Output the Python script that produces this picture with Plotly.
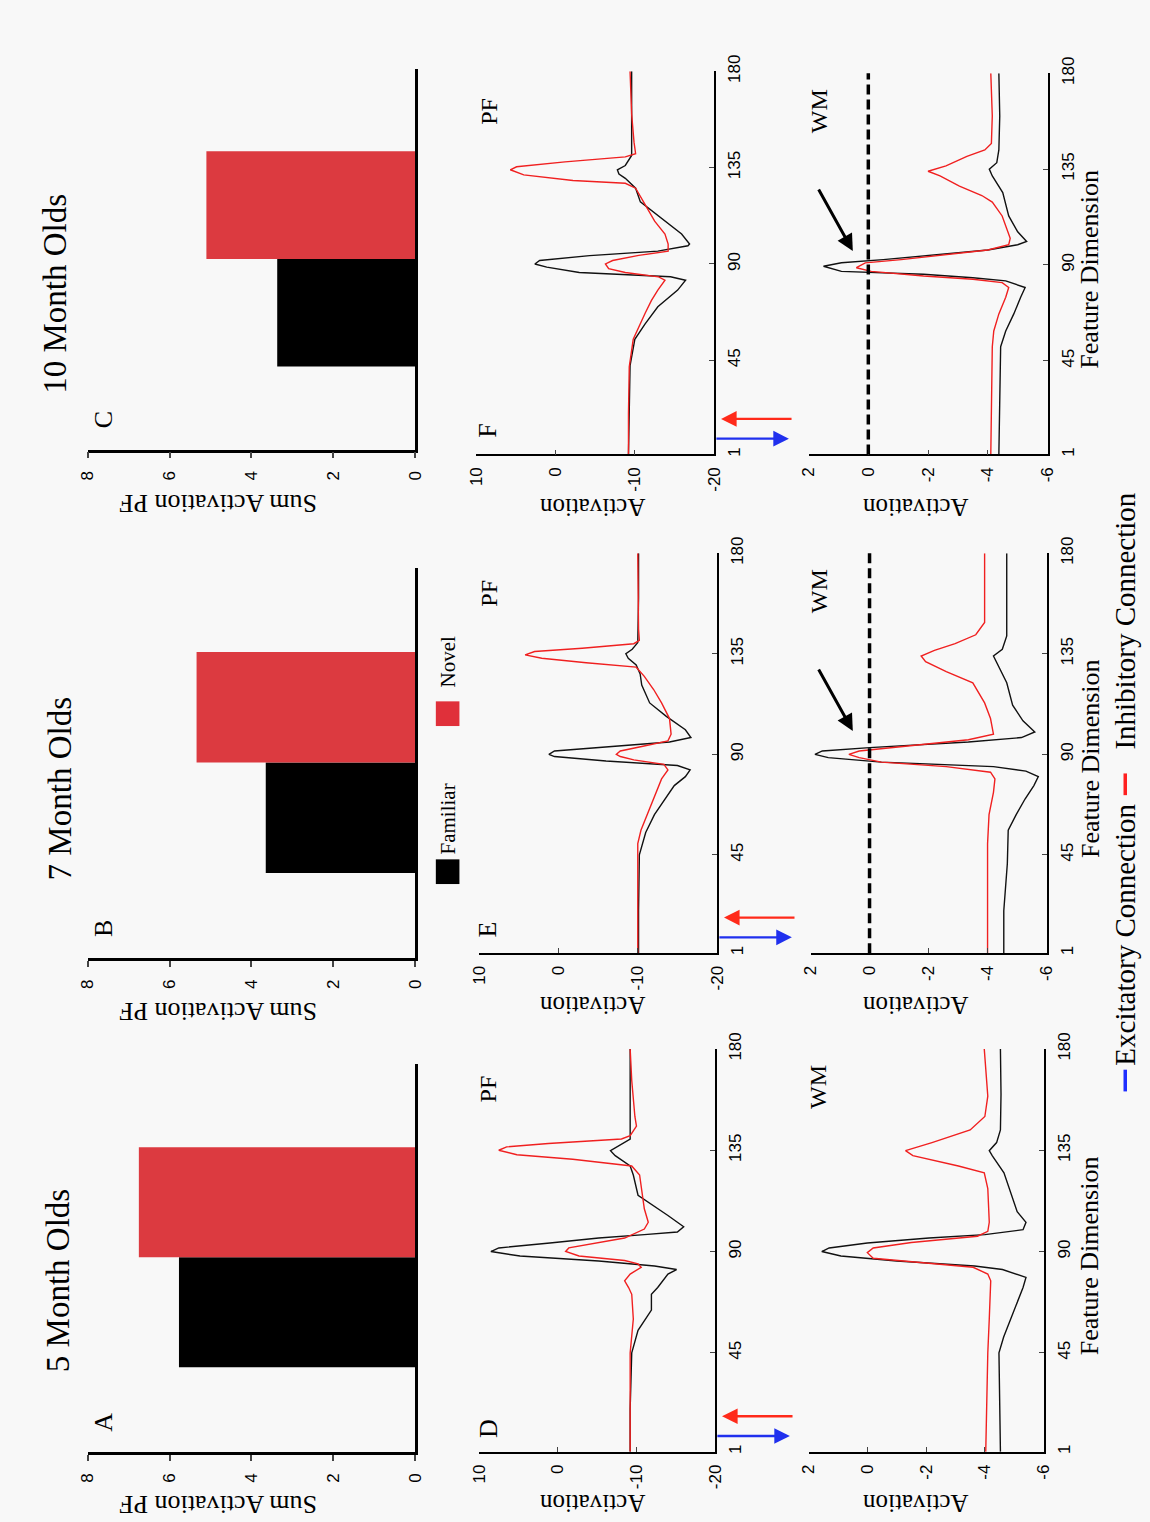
import plotly.graph_objects as go

W, H = 1150, 1522
SERIF = "Liberation Serif"
SANS = "Liberation Sans"
RED_BAR = "#dc3a40"
RED_LINE = "#f02020"
BLACK = "#111111"

# ---------------- data ----------------
AGES = ["5 Month Olds", "7 Month Olds", "10 Month Olds"]
BAR_LETTERS = ["A", "B", "C"]
PF_LETTERS = ["D", "E", "F"]
GROUPS = ["Familiar", "Novel"]
FAMILIAR_SUM = [5.77, 3.65, 3.37]
NOVEL_SUM = [6.75, 5.34, 5.10]

BAR_TICKS = [0, 2, 4, 6, 8]
PF_TICKS = [10, 0, -10, -20]
WM_TICKS = [2, 0, -2, -4, -6]
FEAT_TICKS = [1, 45, 90, 135, 180]

# 5 month olds, PF field (D)
D_PF_FAM_F = [1, 20, 45, 55, 64, 71, 74, 80, 82, 83.6, 85.8, 88, 90, 91.6, 93.8, 96, 97.5, 98.7, 101, 106, 115, 124, 128, 132.6, 134.8, 137, 140, 160, 180]
D_PF_FAM_A = [-9.2, -9.2, -9.4, -10.2, -11.9, -11.9, -12.7, -14.0, -15.1, -12.3, -5.2, 4.8, 8.5, 7.5, 1.0, -5.2, -11.0, -15.2, -16.0, -14.0, -10.2, -9.6, -9.2, -7.3, -6.7, -7.8, -9.2, -9.2, -9.2]
D_PF_NOV_F = [1, 20, 45, 60, 71, 74, 77, 80, 83, 84.5, 86, 88, 90, 91.6, 94, 96, 100, 103, 109, 118, 124, 128, 131, 133, 135, 136.5, 138, 140, 141.5, 145.7, 150, 166, 180]
D_PF_NOV_A = [-9.2, -9.2, -9.2, -9.6, -9.4, -9.0, -8.5, -9.2, -10.6, -10.2, -8.5, -2.7, -1.0, -1.4, -5.2, -8.5, -11.0, -11.5, -11.0, -10.6, -10.4, -9.4, -1.9, 5.2, 7.5, 6.5, 1.2, -8.1, -9.2, -10.0, -9.8, -9.4, -9.2]
# 5 month olds, WM field
D_WM_FAM_F = [1, 20, 45, 52, 59.5, 66.8, 74, 78.5, 82, 83.6, 85.8, 88, 90, 91.6, 93.8, 96, 97.5, 99.7, 103, 107.7, 116.5, 125, 132.6, 134.8, 138.4, 144, 160, 180]
D_WM_FAM_A = [-4.53, -4.5, -4.48, -4.64, -4.87, -5.1, -5.3, -5.4, -4.6, -3.65, -1.0, 0.9, 1.55, 1.3, 0.0, -2.1, -4.0, -5.3, -5.4, -5.1, -4.87, -4.65, -4.25, -4.15, -4.4, -4.53, -4.55, -4.53]
D_WM_NOV_F = [1, 20, 45, 60, 77, 80, 83, 85, 87, 89.5, 91.6, 94, 96.8, 99, 103, 118, 125, 128, 132.6, 134.8, 138.4, 144, 150, 159, 180]
D_WM_NOV_A = [-4.03, -4.05, -4.1, -4.15, -4.2, -4.1, -3.6, -1.9, -0.2, 0.0, -0.2, -1.5, -3.75, -4.1, -4.15, -4.1, -3.98, -3.1, -1.55, -1.3, -2.2, -3.5, -4.0, -4.1, -3.98]

# 7 month olds, PF field (E)
E_PF_FAM_F = [1, 20, 45, 55, 63, 70, 76, 80, 83, 85, 87, 89, 90, 91.5, 93.5, 95.5, 97.5, 101, 107, 113, 121, 126, 130, 133, 135, 137, 140, 160, 180]
E_PF_FAM_A = [-10.1, -10.1, -10.2, -11.0, -12.1, -13.4, -14.6, -16.0, -16.6, -15.0, -6.0, 0.5, 1.2, 0.5, -7.0, -14.0, -16.7, -16.0, -13.6, -11.5, -10.5, -10.3, -9.8, -8.8, -8.5, -9.3, -10.0, -10.1, -10.1]
E_PF_NOV_F = [1, 20, 50, 56, 70, 79, 83, 85.5, 87.5, 89, 90, 91.5, 93.5, 96, 99, 106, 113, 119, 125, 129, 131, 133, 134.5, 136, 137.5, 139.5, 141, 146, 180]
E_PF_NOV_A = [-10.0, -10.0, -10.0, -10.4, -12.0, -13.0, -13.8, -13.3, -9.5, -7.8, -7.3, -7.8, -10.5, -13.8, -14.2, -14.0, -13.0, -12.0, -10.8, -9.8, -3.5, 2.1, 4.2, 3.0, -3.0, -9.5, -10.2, -10.1, -10.0]
# 7 month olds, WM field
E_WM_FAM_F = [1, 20, 41, 56, 63, 70, 76, 80, 82.5, 84.5, 86.5, 88.5, 90, 91.5, 93, 95.5, 97.5, 100, 105, 112, 122, 130, 134, 137, 143, 160, 180]
E_WM_FAM_A = [-4.55, -4.55, -4.67, -4.7, -4.97, -5.27, -5.57, -5.72, -5.3, -4.2, -0.4, 1.4, 1.85, 1.6, 0.0, -3.35, -5.15, -5.6, -5.2, -4.85, -4.65, -4.35, -4.2, -4.5, -4.65, -4.65, -4.65]
E_WM_NOV_F = [1, 20, 50, 63, 73, 79, 82, 84.5, 86.5, 88.5, 90, 91.5, 93.5, 96.5, 99, 106, 113, 122, 127, 131.5, 134, 136.5, 139.5, 143.5, 149, 180]
E_WM_NOV_A = [-4.0, -4.0, -4.0, -4.05, -4.2, -4.25, -4.1, -2.6, -0.4, 0.35, 0.7, 0.35, -1.1, -3.35, -4.2, -4.1, -3.9, -3.5, -2.6, -1.9, -1.75, -2.2, -2.9, -3.6, -3.9, -3.9]

# 10 month olds, PF field (F)
F_PF_FAM_F = [1, 20, 42.5, 54.8, 62, 70, 77.8, 82.4, 84, 86, 88.5, 90, 91.6, 93.9, 96, 98.5, 99.3, 104, 110, 116, 119, 125.4, 130, 132, 134, 136, 140.7, 160, 180]
F_PF_FAM_A = [-9.2, -9.3, -9.4, -10.0, -11.3, -12.9, -15.4, -16.4, -14.5, -3.0, 1.1, 2.6, 2.0, -4.3, -12.9, -16.7, -16.9, -15.9, -13.8, -11.7, -10.7, -10.1, -8.8, -8.0, -7.8, -8.8, -9.6, -9.6, -9.6]
F_PF_NOV_F = [1, 20, 42, 54.8, 67, 73, 77.8, 82.4, 84, 86, 87.8, 90, 91.6, 94, 96, 99.3, 104, 110, 117.7, 125.4, 127.7, 129, 131.6, 134, 135.4, 137.7, 140, 141.5, 146.9, 160, 180]
F_PF_NOV_A = [-9.2, -9.2, -9.3, -9.8, -11.3, -12.1, -12.9, -13.8, -13.0, -8.8, -6.7, -6.3, -7.2, -10.5, -14.2, -14.2, -13.8, -12.5, -11.3, -10.1, -8.8, -2.2, 4.0, 5.7, 4.9, -1.2, -8.8, -10.1, -9.9, -9.6, -9.4]
# 10 month olds, WM field
F_WM_FAM_F = [1, 20, 36, 51.6, 59, 67, 74.8, 79.4, 82.5, 84, 85.6, 87, 89.4, 91, 92.5, 94.8, 97, 99.5, 101, 105.6, 113, 124, 131.8, 135, 138, 144, 160, 180]
F_WM_FAM_A = [-4.37, -4.4, -4.43, -4.43, -4.6, -4.87, -5.1, -5.25, -4.6, -3.5, -1.85, 0.9, 1.5, 0.9, -0.5, -2.4, -4.0, -5.0, -5.3, -5.0, -4.7, -4.5, -4.15, -4.05, -4.3, -4.37, -4.4, -4.37]
F_WM_NOV_F = [1, 20, 51.6, 59, 67, 74.8, 79.4, 81.7, 83.3, 84.8, 87, 88.7, 91, 92.5, 94.8, 97, 99.5, 102.5, 113, 119.5, 122.6, 127, 131.8, 134, 136.5, 141, 144, 147, 160, 180]
F_WM_NOV_A = [-4.1, -4.12, -4.15, -4.2, -4.37, -4.6, -4.7, -4.48, -3.5, -1.85, -0.1, 0.4, 0.1, -1.1, -2.7, -4.0, -4.7, -4.75, -4.48, -4.15, -3.8, -3.05, -2.4, -2.0, -2.6, -3.3, -3.9, -4.12, -4.15, -4.1]

PF_CURVES = [
    (D_PF_FAM_F, D_PF_FAM_A, D_PF_NOV_F, D_PF_NOV_A),
    (E_PF_FAM_F, E_PF_FAM_A, E_PF_NOV_F, E_PF_NOV_A),
    (F_PF_FAM_F, F_PF_FAM_A, F_PF_NOV_F, F_PF_NOV_A),
]
WM_CURVES = [
    (D_WM_FAM_F, D_WM_FAM_A, D_WM_NOV_F, D_WM_NOV_A),
    (E_WM_FAM_F, E_WM_FAM_A, E_WM_NOV_F, E_WM_NOV_A),
    (F_WM_FAM_F, F_WM_FAM_A, F_WM_NOV_F, F_WM_NOV_A),
]

# ---------------- layout geometry (pixels: x0, x1, ytop, ybottom) ----------------
BAR_BOX = [(80, 413, 1060, 1453), (80, 413, 558, 953), (80, 413, 53, 438)]
PF_BOX = [(478, 718, 1045, 1453), (478, 720, 543, 948), (475, 717, 55, 443)]
WM_BOX = [(813, 1052, 1045, 1453), (815, 1055, 543, 948), (813, 1056, 57, 443)]


def xd(b):
    return [b[0] / W, b[1] / W]


def yd(b):
    return [1 - b[3] / H, 1 - b[2] / H]


def fmt(v):
    return str(v).replace("\u2212", "-")


fig = go.Figure()
layout = dict(
    width=W, height=H, autosize=False,
    margin=dict(l=0, r=0, t=0, b=0),
    paper_bgcolor="#f8f8f8", plot_bgcolor="#f8f8f8",
    showlegend=False, barmode="overlay",
    font=dict(family=SANS, color="black"),
)
annotations = []
shapes = []


def txt(x, y, s, size, angle=-90, family=SERIF, color="black"):
    annotations.append(dict(x=x / W, y=1 - y / H, xref="paper", yref="paper", text=s,
                            showarrow=False, textangle=angle, xanchor="center", yanchor="middle",
                            font=dict(family=family, size=size, color=color)))


ax_i = 0
for i in range(3):
    # ---- bar chart ----
    ax_i += 1
    xa, ya = f"x{ax_i}", f"y{ax_i}"
    fig.add_trace(go.Bar(orientation="h", y=GROUPS, x=[FAMILIAR_SUM[i], NOVEL_SUM[i]],
                         marker=dict(color=["#000000", RED_BAR], line=dict(width=0)),
                         width=1.0, xaxis=xa, yaxis=ya))
    b = BAR_BOX[i]
    layout[f"xaxis{ax_i}"] = dict(domain=xd(b), anchor=ya, range=[8, 0], tickvals=BAR_TICKS,
                                  ticktext=[fmt(v) for v in BAR_TICKS], ticks="outside", ticklen=6,
                                  tickwidth=2, showline=True, linewidth=2.5, linecolor="black",
                                  tickangle=-90, showgrid=False, zeroline=False,
                                  tickfont=dict(family=SANS, size=17), ticklabelstandoff=6)
    layout[f"yaxis{ax_i}"] = dict(domain=yd(b), anchor=xa, side="right", type="category",
                                  range=[-1.27, 2.26], showline=True, linewidth=2.5, linecolor="black",
                                  showticklabels=False, ticks="", showgrid=False, zeroline=False)

for i in range(3):
    # ---- PF curves ----
    ax_i += 1
    xa, ya = f"x{ax_i}", f"y{ax_i}"
    ff, fa, nf, na = PF_CURVES[i]
    fig.add_trace(go.Scatter(x=fa, y=ff, mode="lines", line=dict(color=BLACK, width=1.4), xaxis=xa, yaxis=ya))
    fig.add_trace(go.Scatter(x=na, y=nf, mode="lines", line=dict(color=RED_LINE, width=1.4), xaxis=xa, yaxis=ya))
    b = PF_BOX[i]
    layout[f"xaxis{ax_i}"] = dict(domain=xd(b), anchor=ya, range=[10, -20], tickvals=PF_TICKS,
                                  ticktext=[fmt(v) for v in PF_TICKS], ticks="inside", ticklen=5,
                                  showline=True, linewidth=1.8, linecolor="black", tickangle=-90,
                                  showgrid=False, zeroline=False, tickfont=dict(family=SANS, size=17),
                                  ticklabelstandoff=4)
    layout[f"yaxis{ax_i}"] = dict(domain=yd(b), anchor=xa, side="right", range=[1, 180], tickvals=FEAT_TICKS,
                                  ticktext=[fmt(v) for v in FEAT_TICKS], ticks="inside", ticklen=5,
                                  showline=True, linewidth=1.8, linecolor="black", tickangle=-90,
                                  showgrid=False, zeroline=False, tickfont=dict(family=SANS, size=17),
                                  ticklabelstandoff=4)

for i in range(3):
    # ---- WM curves ----
    ax_i += 1
    xa, ya = f"x{ax_i}", f"y{ax_i}"
    ff, fa, nf, na = WM_CURVES[i]
    if i > 0:
        shapes.append(dict(type="line", xref=xa, x0=0, x1=0, yref=f"{ya} domain", y0=0, y1=1,
                           line=dict(color="black", width=3.5, dash="10px,5px")))
    fig.add_trace(go.Scatter(x=fa, y=ff, mode="lines", line=dict(color=BLACK, width=1.4), xaxis=xa, yaxis=ya))
    fig.add_trace(go.Scatter(x=na, y=nf, mode="lines", line=dict(color=RED_LINE, width=1.4), xaxis=xa, yaxis=ya))
    b = WM_BOX[i]
    layout[f"xaxis{ax_i}"] = dict(domain=xd(b), anchor=ya, range=[2, -6], tickvals=WM_TICKS,
                                  ticktext=[fmt(v) for v in WM_TICKS], ticks="inside", ticklen=5,
                                  showline=True, linewidth=1.8, linecolor="black", tickangle=-90,
                                  showgrid=False, zeroline=False, tickfont=dict(family=SANS, size=17),
                                  ticklabelstandoff=4)
    layout[f"yaxis{ax_i}"] = dict(domain=yd(b), anchor=xa, side="right", range=[1, 180], tickvals=FEAT_TICKS,
                                  ticktext=[fmt(v) for v in FEAT_TICKS], ticks="inside", ticklen=5,
                                  showline=True, linewidth=1.8, linecolor="black", tickangle=-90,
                                  showgrid=False, zeroline=False, tickfont=dict(family=SANS, size=17),
                                  ticklabelstandoff=4)

# ---------------- text ----------------
TITLE_POS = [(50, 1280), (52, 782), (46, 280)]
for i in range(3):
    txt(*TITLE_POS[i], AGES[i], 33)
    b = BAR_BOX[i]
    txt(96, b[3] - 30, BAR_LETTERS[i], 26)
    txt(212, b[3] + 54, "Sum Activation PF", 26, angle=180)
    p = PF_BOX[i]
    txt(487, p[3] - 24, PF_LETTERS[i], 26)
    txt(488, p[2] + 40, "PF", 24)
    txt(593, p[3] + 53, "Activation", 25, angle=180)
    w = WM_BOX[i]
    txt(823, w[2] + 38, "WM", 24)
    txt(922, w[3] + 53, "Activation", 25, angle=180)
    txt(1099, (w[2] + w[3]) / 2 + 5, "Feature Dimension", 26)

    # excitatory / inhibitory connection arrows next to PF feature 1
    yb = p[3]
    annotations.append(dict(x=(p[1] + 7) / W, y=1 - (yb - 36) / H, xref="paper", yref="paper", text="",
                            showarrow=True, ax=72, ay=0, arrowhead=2, arrowsize=1.3, arrowwidth=2.4,
                            arrowcolor="#ff2a1a"))
    annotations.append(dict(x=(p[1] + 76) / W, y=1 - (yb - 16) / H, xref="paper", yref="paper", text="",
                            showarrow=True, ax=-74, ay=0, arrowhead=2, arrowsize=1.3, arrowwidth=2.4,
                            arrowcolor="#2030ee"))

# black arrows pointing at WM peak (7 and 10 months)
for i in (1, 2):
    w = WM_BOX[i]
    annotations.append(dict(x=858 / W, y=1 - (w[2] + 180) / H, xref="paper", yref="paper", text="",
                            showarrow=True, ax=-35, ay=-63, arrowhead=2, arrowsize=1.1, arrowwidth=3,
                            arrowcolor="black"))

# Familiar / Novel legend
shapes.append(dict(type="rect", xref="paper", yref="paper", x0=434 / W, x1=458 / W, y0=1 - 878 / H, y1=1 - 853 / H,
                   fillcolor="black", line=dict(width=0)))
shapes.append(dict(type="rect", xref="paper", yref="paper", x0=434 / W, x1=458 / W, y0=1 - 718 / H, y1=1 - 693 / H,
                   fillcolor="#e0303a", line=dict(width=0)))
txt(446, 812, GROUPS[0], 21)
txt(446, 653, GROUPS[1], 21)

# connection legend
shapes.append(dict(type="line", xref="paper", yref="paper", x0=1135 / W, x1=1135 / W, y0=1 - 1088 / H, y1=1 - 1066 / H,
                   line=dict(color="#1f2fff", width=3.5)))
shapes.append(dict(type="line", xref="paper", yref="paper", x0=1135 / W, x1=1135 / W, y0=1 - 788 / H, y1=1 - 766 / H,
                   line=dict(color="#ff2020", width=3.5)))
txt(1135, 929, "Excitatory Connection", 29)
txt(1135, 612, "Inhibitory Connection", 29)

layout["annotations"] = annotations
layout["shapes"] = shapes
fig.update_layout(**layout)
fig.write_html("out.html", config={"displayModeBar": False},
               post_script="document.body.style.margin='0px';document.body.style.overflow='hidden';")
